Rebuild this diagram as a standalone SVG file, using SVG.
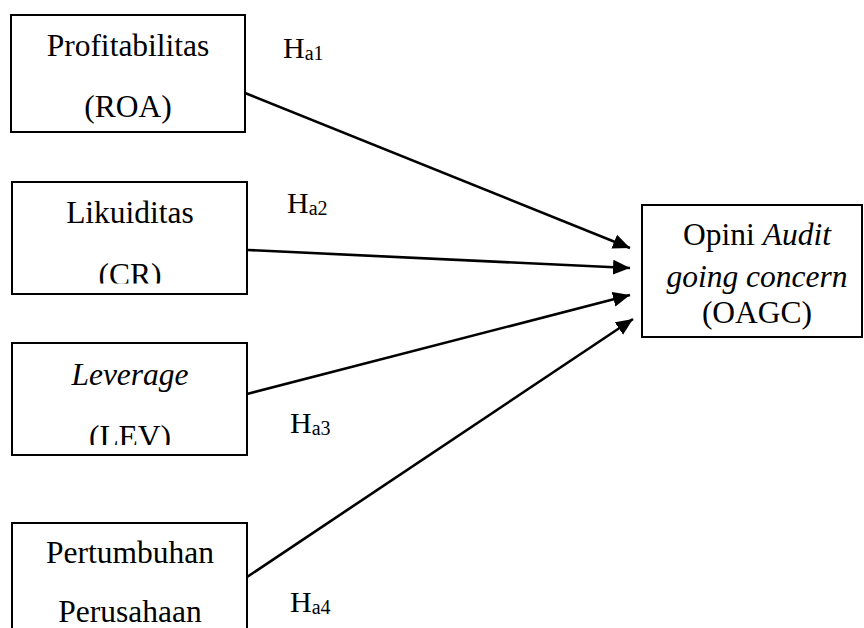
<svg xmlns="http://www.w3.org/2000/svg" width="864" height="628" viewBox="0 0 864 628">
<style>
text{font-family:'Liberation Serif','DejaVu Serif',serif}
.box{fill:#fff;stroke:#000;stroke-width:2}
.t{font-size:31.5px;fill:#000;text-anchor:middle}
.h{font-size:30px;fill:#000}
.sub{font-size:20px}
.it{font-style:italic}
.conn{stroke:#000;stroke-width:2.6;fill:none;marker-end:url(#ah)}
</style>
<defs>
<marker id="ah" markerUnits="userSpaceOnUse" markerWidth="18" markerHeight="16" refX="17" refY="7.5" orient="auto">
<path d="M0,0 L17,7.5 L0,15 z" fill="#000"/>
</marker>
<clipPath id="c2"><rect x="12" y="182" width="235" height="101.5"/></clipPath>
<clipPath id="c3"><rect x="12" y="343" width="235" height="102"/></clipPath>
</defs>
<rect width="864" height="628" fill="#fff"/>
<g id="connectors">
<line class="conn" x1="245" y1="93" x2="630" y2="248"/>
<line class="conn" x1="248" y1="250" x2="630" y2="268"/>
<line class="conn" x1="247" y1="394" x2="630" y2="295"/>
<line class="conn" x1="247" y1="577" x2="633" y2="319"/>
</g>
<g id="node-roa">
<rect class="box" x="11" y="15" width="234" height="117"/>
<text class="t" x="128" y="56">Profitabilitas</text>
<text class="t" x="128" y="117">(ROA)</text>
</g>
<g id="node-cr">
<rect class="box" x="12" y="182" width="235" height="112"/>
<g clip-path="url(#c2)">
<text class="t" x="130" y="223">Likuiditas</text>
<text class="t" x="130" y="285">(CR)</text>
</g>
</g>
<g id="node-lev">
<rect class="box" x="12" y="343" width="235" height="112"/>
<g clip-path="url(#c3)">
<text class="t it" x="130" y="385">Leverage</text>
<text class="t" x="130" y="447">(LEV)</text>
</g>
</g>
<g id="node-pp">
<rect class="box" x="12" y="523" width="235" height="120"/>
<text class="t" x="130" y="563">Pertumbuhan</text>
<text class="t" x="130" y="622">Perusahaan</text>
</g>
<g id="node-oagc">
<rect class="box" x="642" y="205" width="220" height="132"/>
<text class="t" x="757" y="245">Opini <tspan class="it">Audit</tspan></text>
<text class="t it" x="757" y="287">going concern</text>
<text class="t" x="757" y="323">(OAGC)</text>
</g>
<g id="labels">
<text class="h" x="283" y="58">H<tspan class="sub" dy="2">a1</tspan></text>
<text class="h" x="287" y="213">H<tspan class="sub" dy="2">a2</tspan></text>
<text class="h" x="290" y="433">H<tspan class="sub" dy="2">a3</tspan></text>
<text class="h" x="290" y="612">H<tspan class="sub" dy="2">a4</tspan></text>
</g>
</svg>
